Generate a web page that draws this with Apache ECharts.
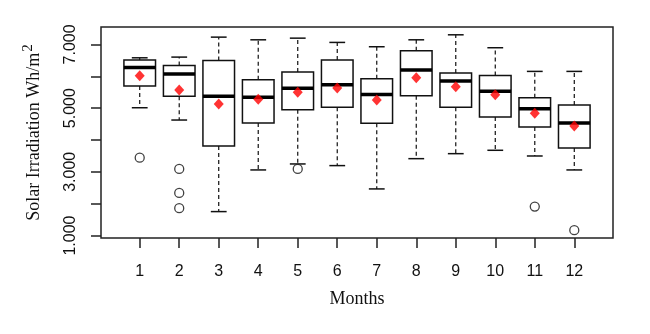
<!DOCTYPE html>
<html>
<head>
<meta charset="utf-8">
<script src="https://cdn.jsdelivr.net/npm/echarts@6/dist/echarts.min.js"></script>
<style>
html, body { margin: 0; padding: 0; background: #fff; }
#chart { width: 650px; height: 334px; }
</style>
</head>
<body>
<div id="chart"></div>
<script>
// monthly box stats (Wh/m2)
var months = [1, 2, 3, 4, 5, 6, 7, 8, 9, 10, 11, 12];
var lowerWhisker = [5012, 4626, 1751, 3059, 3247, 3195, 2463, 3413, 3570, 3676, 3497, 3059];
var q1 = [5692, 5369, 3811, 4532, 4950, 5024, 4523, 5389, 5024, 4720, 4407, 3748];
var median = [6279, 6069, 5369, 5338, 5620, 5733, 5430, 6194, 5849, 5526, 4981, 4532];
var q3 = [6508, 6342, 6498, 5890, 6132, 6508, 5921, 6801, 6100, 6028, 5326, 5097];
var upperWhisker = [6580, 6602, 7229, 7145, 7197, 7063, 6927, 7145, 7302, 6896, 6153, 6153];
var means = [6016, 5567, 5128, 5275, 5495, 5630, 5253, 5953, 5672, 5420, 4836, 4438];
var outlierMonth = [1, 2, 2, 2, 5, 11, 12];
var outlierValue = [3444, 3090, 2337, 1857, 3090, 1908, 1167];
var yTicks = [1000, 2000, 3000, 4000, 5000, 6000, 7000];
var yLabels = [1000, 3000, 5000, 7000];

var chart = echarts.init(document.getElementById('chart'));

var boxData = [], meanData = [], outData = [];
for (var i = 0; i < months.length; i++) {
	boxData.push([months[i], lowerWhisker[i], q1[i], median[i], q3[i], upperWhisker[i]]);
	meanData.push([months[i], means[i]]);
}
for (var j = 0; j < outlierMonth.length; j++) {
	outData.push([outlierMonth[j], outlierValue[j]]);
}

function renderBox(params, api) {
	var x = api.value(0);
	var unit = api.size([1, 0])[0];
	var cx = api.coord([x, 0])[0];
	var half = unit * 0.4, cap = unit * 0.2;
	var yLo = api.coord([x, api.value(1)])[1];
	var yQ1 = api.coord([x, api.value(2)])[1];
	var yMed = api.coord([x, api.value(3)])[1];
	var yQ3 = api.coord([x, api.value(4)])[1];
	var yHi = api.coord([x, api.value(5)])[1];
	var dash = { stroke: '#111', lineWidth: 1.2, lineDash: [4, 3] };
	var solid = { stroke: '#111', lineWidth: 1.5 };
	return {
		type: 'group',
		children: [
			{ type: 'line', shape: { x1: cx, y1: yQ3, x2: cx, y2: yHi }, style: dash },
			{ type: 'line', shape: { x1: cx, y1: yQ1, x2: cx, y2: yLo }, style: dash },
			{ type: 'line', shape: { x1: cx - cap, y1: yHi, x2: cx + cap, y2: yHi }, style: solid },
			{ type: 'line', shape: { x1: cx - cap, y1: yLo, x2: cx + cap, y2: yLo }, style: solid },
			{ type: 'rect', shape: { x: cx - half, y: yQ3, width: half * 2, height: yQ1 - yQ3 },
				style: { fill: '#fff', stroke: '#111', lineWidth: 1.5 } },
			{ type: 'line', shape: { x1: cx - half, y1: yMed, x2: cx + half, y2: yMed },
				style: { stroke: '#000', lineWidth: 3.5 } }
		]
	};
}

var option = {
	animation: false,
	backgroundColor: '#fff',
	grid: {
		left: 101, right: 37, top: 27, bottom: 96,
		show: true, borderColor: '#222', borderWidth: 1.5, backgroundColor: 'transparent'
	},
	xAxis: {
		type: 'value',
		min: 0.02,
		max: 12.98,
		name: 'Months',
		nameLocation: 'middle',
		nameGap: 52,
		nameTextStyle: { fontFamily: 'Liberation Serif', fontSize: 18, color: '#111' },
		axisLine: { show: false },
		axisTick: { show: true, inside: false, length: 10, customValues: months, lineStyle: { color: '#222', width: 1.5 } },
		axisLabel: { customValues: months, margin: 26, fontFamily: 'Liberation Sans', fontSize: 16, color: '#111' },
		splitLine: { show: false }
	},
	yAxis: {
		type: 'value',
		min: 922,
		max: 7547,
		name: 'Solar Irradiation Wh/m{sup|2}',
		nameLocation: 'middle',
		nameGap: 54,
		nameTextStyle: {
			fontFamily: 'Liberation Serif', fontSize: 18, color: '#111',
			rich: { sup: { fontFamily: 'Liberation Serif', fontSize: 15, color: '#111', padding: [0, 0, 11, 1] } }
		},
		axisLine: { show: false },
		axisTick: { show: true, inside: false, length: 10, customValues: yTicks, lineStyle: { color: '#222', width: 1.5 } },
		axisLabel: {
			customValues: yLabels,
			rotate: 90,
			margin: 22,
			fontFamily: 'Liberation Sans', fontSize: 16, color: '#111',
			formatter: function (v) { return (v / 1000) + '.000'; }
		},
		splitLine: { show: false }
	},
	series: [
		{
			type: 'custom',
			renderItem: renderBox,
			data: boxData,
			encode: { x: 0, y: [1, 2, 3, 4, 5] },
			z: 2
		},
		{
			type: 'scatter',
			data: meanData,
			symbol: 'diamond',
			symbolSize: [10, 11],
			itemStyle: { color: '#ff0000' },
			z: 5
		},
		{
			type: 'scatter',
			data: outData,
			symbol: 'circle',
			symbolSize: 9,
			itemStyle: { color: '#fff', borderColor: '#111', borderWidth: 1.3 },
			z: 5
		}
	]
};

chart.setOption(option);
</script>
</body>
</html>
